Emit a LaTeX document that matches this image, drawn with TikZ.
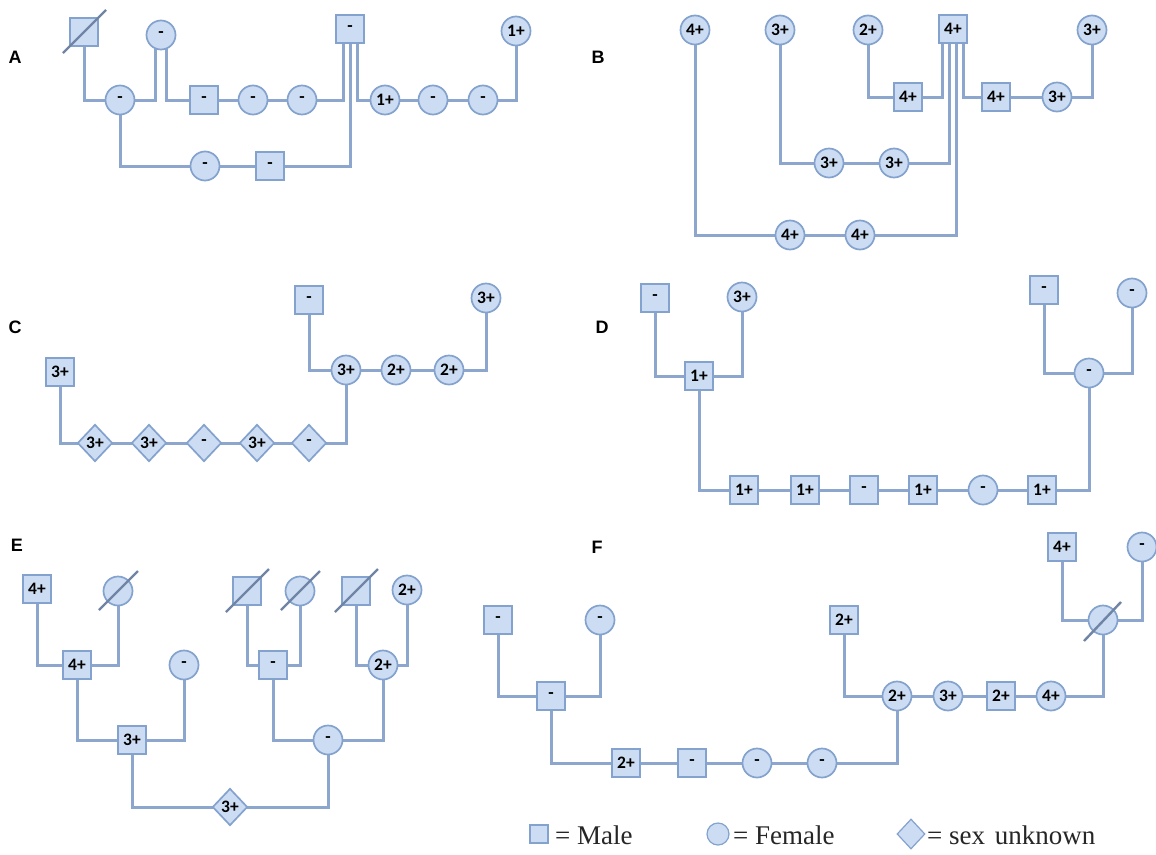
\documentclass[tikz,border=0pt]{standalone}
\usepackage{fontspec}
\usetikzlibrary{shapes.geometric,calc,backgrounds}
\newfontfamily\nodefnt{Carlito}
\newfontfamily\labfnt{Liberation Sans}
\newfontfamily\legfnt{Liberation Serif}
\definecolor{linecol}{RGB}{140,166,206}
\definecolor{nodefill}{RGB}{204,221,243}
\definecolor{nodeborder}{RGB}{132,162,206}
\tikzset{
  base/.style={draw=nodeborder, fill=nodefill, line width=1.7pt, inner sep=0pt,
    font=\nodefnt\bfseries\fontsize{17.5}{17.5}\selectfont, text=black},
  male/.style={base, rectangle, minimum size=28pt},
  female/.style={base, circle, minimum size=29pt},
  unk/.style={base, diamond, minimum width=35pt, minimum height=37pt},
  link/.style={draw=linecol, line width=3pt},
  slashln/.style={draw=linecol!80!black, line width=2.4pt},
  lab/.style={font=\labfnt\bfseries\fontsize{18}{18}\selectfont, text=black},
  legtxt/.style={font=\legfnt\fontsize{27}{27}\selectfont, text=black!85, anchor=west, inner sep=0pt},
}
\begin{document}
\begin{tikzpicture}[x=1pt,y=-1pt]
\begin{scope}[on background layer]
\fill[white] (0,0) rectangle (1156,854);
\end{scope}
\useasboundingbox (0,0) rectangle (1156,854);

% ---------------- Panel A ----------------
\node[lab] (labA) at (15,57) {A};
\node[male] (a1) at (84,32) {};
\node[female] (a2) at (161,35) {-};
\node[male] (a3) at (350,29) {-};
\node[female] (a4) at (516,31) {1+};
\node[female] (a5) at (120,100) {-};
\node[male] (a6) at (204,100) {-};
\node[female] (a7) at (253,100) {-};
\node[female] (a8) at (302,100) {-};
\node[female] (a9) at (385,100) {1+};
\node[female] (a10) at (433,100) {-};
\node[female] (a11) at (483,100) {-};
\node[female] (a12) at (205,166) {-};
\node[male] (a13) at (270,166) {-};
\draw[slashln] ($(a1)+(-21,21)$) -- ($(a1)+(22,-22)$);
\begin{scope}[on background layer]
\draw[link] (a1.center) |- (a5.center);
\draw[link] (a5.center) -| ([xshift=-5.5pt]a2.center);
\draw[link] ([xshift=5.5pt]a2.center) |- (a6.center);
\draw[link] (a6.center) -- (a7.center) -- (a8.center);
\draw[link] (a8.center) -| ([xshift=-7pt]a3.center);
\draw[link] (a3.center) |- (a13.center);
\draw[link] (a13.center) -- (a12.center);
\draw[link] (a12.center) -| (a5.center);
\draw[link] ([xshift=7pt]a3.center) |- (a9.center);
\draw[link] (a9.center) -- (a10.center) -- (a11.center);
\draw[link] (a11.center) -| (a4.center);
\end{scope}

% ---------------- Panel B ----------------
\node[lab] (labB) at (598,57) {B};
\node[female] (b1) at (695,30) {4+};
\node[female] (b2) at (780,30) {3+};
\node[female] (b3) at (868,30) {2+};
\node[male] (b4) at (953,29) {4+};
\node[female] (b5) at (1092,30) {3+};
\node[male] (b6) at (908,97) {4+};
\node[male] (b7) at (996,97) {4+};
\node[female] (b8) at (1057,97) {3+};
\node[female] (b9) at (829,163) {3+};
\node[female] (b10) at (894,163) {3+};
\node[female] (b11) at (790,235) {4+};
\node[female] (b12) at (860,235) {4+};
\begin{scope}[on background layer]
\draw[link] ([xshift=-10.5pt]b4.center) |- (b6.center);
\draw[link] (b6.center) -| (b3.center);
\draw[link] ([xshift=-3.5pt]b4.center) |- (b10.center);
\draw[link] (b10.center) -- (b9.center);
\draw[link] (b9.center) -| (b2.center);
\draw[link] ([xshift=3.5pt]b4.center) |- (b12.center);
\draw[link] (b12.center) -- (b11.center);
\draw[link] (b11.center) -| (b1.center);
\draw[link] ([xshift=10.5pt]b4.center) |- (b7.center);
\draw[link] (b7.center) -- (b8.center);
\draw[link] (b8.center) -| (b5.center);
\end{scope}

% ---------------- Panel C ----------------
\node[lab] (labC) at (15,327) {C};
\node[male] (c1) at (309,300) {-};
\node[female] (c2) at (486,298) {3+};
\node[male] (c3) at (60,372) {3+};
\node[female] (c4) at (346,370) {3+};
\node[female] (c5) at (396,370) {2+};
\node[female] (c6) at (449,370) {2+};
\node[unk] (c7) at (95,443) {3+};
\node[unk] (c8) at (149,443) {3+};
\node[unk] (c9) at (204,443) {-};
\node[unk] (c10) at (257,443) {3+};
\node[unk] (c11) at (309,443) {-};
\begin{scope}[on background layer]
\draw[link] (c1.center) |- (c4.center);
\draw[link] (c4.center) -- (c5.center) -- (c6.center);
\draw[link] (c6.center) -| (c2.center);
\draw[link] (c3.center) |- (c7.center);
\draw[link] (c7.center) -- (c8.center) -- (c9.center) -- (c10.center) -- (c11.center);
\draw[link] (c11.center) -| (c4.center);
\end{scope}

% ---------------- Panel D ----------------
\node[lab] (labD) at (602,327) {D};
\node[male] (d1) at (655,298) {-};
\node[female] (d2) at (742,297) {3+};
\node[male] (d3) at (699,376) {1+};
\node[male] (d4) at (744,490) {1+};
\node[male] (d5) at (805,490) {1+};
\node[male] (d6) at (864,490) {-};
\node[male] (d7) at (923,490) {1+};
\node[female] (d8) at (983,490) {-};
\node[male] (d9) at (1042,490) {1+};
\node[female] (d10) at (1089,373) {-};
\node[male] (d11) at (1044,290) {-};
\node[female] (d12) at (1132,293) {-};
\begin{scope}[on background layer]
\draw[link] (d1.center) |- (d3.center);
\draw[link] (d3.center) -| (d2.center);
\draw[link] (d3.center) |- (d4.center);
\draw[link] (d4.center) -- (d5.center) -- (d6.center) -- (d7.center) -- (d8.center) -- (d9.center);
\draw[link] (d9.center) -| (d10.center);
\draw[link] (d11.center) |- (d10.center);
\draw[link] (d10.center) -| (d12.center);
\end{scope}

% ---------------- Panel E ----------------
\node[lab] (labE) at (17,545) {E};
\node[male] (e1) at (37,589) {4+};
\node[female] (e2) at (118,591) {};
\node[male] (e3) at (77,665) {4+};
\node[female] (e4) at (184,665) {-};
\node[male] (e5) at (132,740) {3+};
\node[unk] (e6) at (230,807) {3+};
\node[male] (e7) at (247,591) {};
\node[female] (e8) at (300,591) {};
\node[male] (e9) at (356,591) {};
\node[female] (e10) at (407,590) {2+};
\node[male] (e11) at (273,665) {-};
\node[female] (e12) at (383,665) {2+};
\node[female] (e13) at (328,740) {-};
\draw[slashln] ($(e2)+(-19,19)$) -- ($(e2)+(20,-20)$);
\draw[slashln] ($(e7)+(-21,21)$) -- ($(e7)+(22,-22)$);
\draw[slashln] ($(e8)+(-19,19)$) -- ($(e8)+(20,-20)$);
\draw[slashln] ($(e9)+(-21,21)$) -- ($(e9)+(22,-22)$);
\begin{scope}[on background layer]
\draw[link] (e1.center) |- (e3.center);
\draw[link] (e3.center) -| (e2.center);
\draw[link] (e3.center) |- (e5.center);
\draw[link] (e5.center) -| (e4.center);
\draw[link] (e5.center) |- (e6.center);
\draw[link] (e6.center) -| (e13.center);
\draw[link] (e13.center) -| (e11.center);
\draw[link] (e13.center) -| (e12.center);
\draw[link] (e11.center) -| (e7.center);
\draw[link] (e11.center) -| (e8.center);
\draw[link] (e12.center) -| (e9.center);
\draw[link] (e12.center) -| (e10.center);
\end{scope}

% ---------------- Panel F ----------------
\node[lab] (labF) at (597,547) {F};
\node[male] (f1) at (498,620) {-};
\node[female] (f2) at (600,620) {-};
\node[male] (f3) at (551,696) {-};
\node[male] (f4) at (626,763) {2+};
\node[male] (f5) at (692,763) {-};
\node[female] (f6) at (757,763) {-};
\node[female] (f7) at (822,763) {-};
\node[female] (f8) at (897,696) {2+};
\node[female] (f9) at (948,696) {3+};
\node[male] (f10) at (1001,696) {2+};
\node[female] (f11) at (1051,696) {4+};
\node[male] (f12) at (844,620) {2+};
\node[female] (f13) at (1103,620) {};
\node[male] (f14) at (1062,547) {4+};
\node[female] (f15) at (1142,547) {-};
\draw[slashln] ($(f13)+(-19,21)$) -- ($(f13)+(18,-18)$);
\begin{scope}[on background layer]
\draw[link] (f1.center) |- (f3.center);
\draw[link] (f3.center) -| (f2.center);
\draw[link] (f3.center) |- (f4.center);
\draw[link] (f4.center) -- (f5.center) -- (f6.center) -- (f7.center);
\draw[link] (f7.center) -| (f8.center);
\draw[link] (f12.center) |- (f8.center);
\draw[link] (f8.center) -- (f9.center) -- (f10.center) -- (f11.center);
\draw[link] (f11.center) -| (f13.center);
\draw[link] (f14.center) |- (f13.center);
\draw[link] (f13.center) -| (f15.center);
\end{scope}

% ---------------- Legend ----------------
\node[base, rectangle, minimum size=18pt, line width=1.2pt] (lm) at (539,834) {};
\node[legtxt] (lmt) at (555,835) {= Male};
\node[base, circle, minimum size=22pt, line width=1.2pt] (lf) at (718,834) {};
\node[legtxt] (lft) at (733,835) {= Female};
\node[base, diamond, minimum width=28pt, minimum height=30pt, line width=1.2pt] (lu) at (911,834) {};
\node[legtxt] (lut) at (927,835) {= sex\hspace{3pt} unknown};
\end{tikzpicture}
\end{document}
